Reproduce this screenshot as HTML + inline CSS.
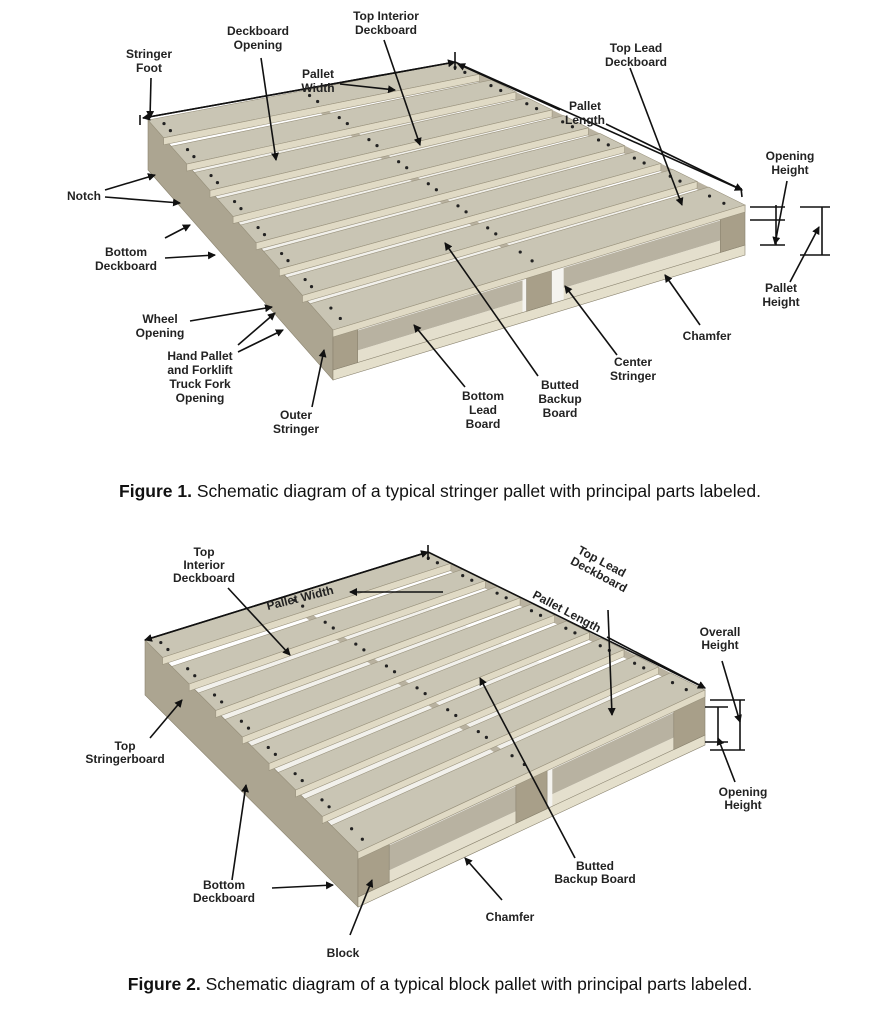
<!DOCTYPE html>
<html><head><meta charset="utf-8"><style>
body{margin:0;background:#fff;width:888px;height:1024px;overflow:hidden}
svg text{font-family:"Liberation Sans",sans-serif;font-weight:bold;font-size:12px;fill:#222}
.cap{font-size:17.5px;font-weight:normal;fill:#111}
</style></head><body>
<svg id="s" width="888" height="1024" viewBox="0 0 888 1024" xmlns="http://www.w3.org/2000/svg">
<defs><marker id="a" markerWidth="8" markerHeight="8" refX="7" refY="4" orient="auto" markerUnits="userSpaceOnUse"><path d="M0,0 L8,4 L0,8 z" fill="#111"/></marker></defs>
<g id="p1"></g><g id="p2"></g>
<g stroke="#111" stroke-width="1.6" fill="none" marker-end="url(#a)">
<line x1="151" y1="78" x2="150" y2="118"/>
<line x1="261" y1="58" x2="276" y2="160"/>
<line x1="384" y1="40" x2="420" y2="145"/>
<line x1="340" y1="84" x2="395" y2="90"/>
<line x1="630" y1="68" x2="682" y2="205"/>
<line x1="560" y1="110" x2="458" y2="64"/>
<line x1="606" y1="124" x2="742" y2="190"/>
<line x1="105" y1="190" x2="155" y2="175"/>
<line x1="105" y1="197" x2="180" y2="203"/>
<line x1="165" y1="238" x2="190" y2="225"/>
<line x1="165" y1="258" x2="215" y2="255"/>
<line x1="190" y1="321" x2="272" y2="307"/>
<line x1="238" y1="345" x2="275" y2="313"/>
<line x1="238" y1="352" x2="283" y2="330"/>
<line x1="312" y1="407" x2="324" y2="350"/>
<line x1="465" y1="387" x2="414" y2="325"/>
<line x1="538" y1="376" x2="445" y2="243"/>
<line x1="617" y1="355" x2="565" y2="286"/>
<line x1="700" y1="325" x2="665" y2="275"/>
<line x1="787" y1="181" x2="775" y2="244"/>
<line x1="790" y1="282" x2="819" y2="227"/>
<line x1="228" y1="588" x2="290" y2="655"/>
<line x1="443" y1="592" x2="350" y2="592"/>
<line x1="150" y1="738" x2="182" y2="700"/>
<line x1="232" y1="880" x2="246" y2="785"/>
<line x1="272" y1="888" x2="333" y2="885"/>
<line x1="350" y1="935" x2="372" y2="880"/>
<line x1="502" y1="900" x2="465" y2="858"/>
<line x1="575" y1="858" x2="480" y2="678"/>
<line x1="608" y1="610" x2="612" y2="715"/>
<line x1="607" y1="637" x2="705" y2="688"/>
<line x1="735" y1="782" x2="718" y2="738"/>
<line x1="722" y1="661" x2="740" y2="722"/>
</g>
<g stroke="#111" stroke-width="1.6" fill="none">
<line x1="143" y1="118" x2="455" y2="62" marker-end="url(#a)"/>
<line x1="455" y1="62" x2="143" y2="118" marker-end="url(#a)"/>
<line x1="455" y1="62" x2="742" y2="190" marker-end="url(#a)"/>
<line x1="741" y1="188" x2="742" y2="197"/>
<line x1="140" y1="115" x2="140" y2="125"/><line x1="455" y1="52" x2="455" y2="70"/>
<line x1="750" y1="207" x2="785" y2="207"/><line x1="750" y1="220" x2="785" y2="220"/>
<line x1="776" y1="205" x2="776" y2="245"/><line x1="760" y1="245" x2="785" y2="245"/>
<line x1="800" y1="207" x2="830" y2="207"/><line x1="800" y1="255" x2="830" y2="255"/>
<line x1="822" y1="207" x2="822" y2="255"/>
<line x1="145" y1="640" x2="428" y2="552" marker-end="url(#a)"/>
<line x1="428" y1="552" x2="145" y2="640" marker-end="url(#a)"/>
<line x1="428" y1="552" x2="705" y2="688" marker-end="url(#a)"/>
<line x1="428" y1="545" x2="428" y2="560"/>
<line x1="710" y1="700" x2="745" y2="700"/><line x1="710" y1="750" x2="745" y2="750"/>
<line x1="740" y1="700" x2="740" y2="750"/>
<line x1="705" y1="707" x2="728" y2="707"/><line x1="705" y1="742" x2="728" y2="742"/>
<line x1="718" y1="707" x2="718" y2="742"/>
</g>
<g text-anchor="middle">
<text x="149" y="58">Stringer</text><text x="149" y="72">Foot</text>
<text x="258" y="35">Deckboard</text><text x="258" y="49">Opening</text>
<text x="386" y="20">Top Interior</text><text x="386" y="34">Deckboard</text>
<text x="318" y="78">Pallet</text><text x="318" y="92">Width</text>
<text x="636" y="52">Top Lead</text><text x="636" y="66">Deckboard</text>
<text x="585" y="110">Pallet</text><text x="585" y="124">Length</text>
<text x="790" y="160">Opening</text><text x="790" y="174">Height</text>
<text x="84" y="200">Notch</text>
<text x="126" y="256">Bottom</text><text x="126" y="270">Deckboard</text>
<text x="781" y="292">Pallet</text><text x="781" y="306">Height</text>
<text x="160" y="323">Wheel</text><text x="160" y="337">Opening</text>
<text x="707" y="340">Chamfer</text>
<text x="200" y="360">Hand Pallet</text><text x="200" y="374">and Forklift</text><text x="200" y="388">Truck Fork</text><text x="200" y="402">Opening</text>
<text x="633" y="366">Center</text><text x="633" y="380">Stringer</text>
<text x="483" y="400">Bottom</text><text x="483" y="414">Lead</text><text x="483" y="428">Board</text>
<text x="560" y="389">Butted</text><text x="560" y="403">Backup</text><text x="560" y="417">Board</text>
<text x="296" y="419">Outer</text><text x="296" y="433">Stringer</text>
<text class="cap" x="440" y="497"><tspan font-weight="bold">Figure 1.</tspan> Schematic diagram of a typical stringer pallet with principal parts labeled.</text>
<text x="204" y="556" font-size="11">Top</text><text x="204" y="569" font-size="11">Interior</text><text x="204" y="582" font-size="11">Deckboard</text>
<text x="300" y="602" font-size="11" transform="rotate(-14 300 598)">Pallet Width</text>
<text x="600" y="565" font-size="11" transform="rotate(28 600 565)">Top Lead</text>
<text x="597" y="578" font-size="11" transform="rotate(28 597 578)">Deckboard</text>
<text x="565" y="615" font-size="11" transform="rotate(28 565 615)">Pallet Length</text>
<text x="720" y="636" font-size="11">Overall</text><text x="720" y="649" font-size="11">Height</text>
<text x="125" y="750" font-size="11">Top</text><text x="125" y="763" font-size="11">Stringerboard</text>
<text x="743" y="796" font-size="11">Opening</text><text x="743" y="809" font-size="11">Height</text>
<text x="595" y="870" font-size="11">Butted</text><text x="595" y="883" font-size="11">Backup Board</text>
<text x="224" y="889" font-size="11">Bottom</text><text x="224" y="902" font-size="11">Deckboard</text>
<text x="510" y="921" font-size="11">Chamfer</text>
<text x="343" y="957" font-size="11">Block</text>
<text class="cap" x="440" y="990"><tspan font-weight="bold">Figure 2.</tspan> Schematic diagram of a typical block pallet with principal parts labeled.</text>
</g>
</svg>
<script>
var NS="http://www.w3.org/2000/svg";
function poly(g,pts,fill,stroke){var p=document.createElementNS(NS,"polygon");p.setAttribute("points",pts.map(function(q){return q[0].toFixed(1)+","+q[1].toFixed(1)}).join(" "));p.setAttribute("fill",fill);if(stroke){p.setAttribute("stroke",stroke);p.setAttribute("stroke-width","0.6")}g.appendChild(p);}
function circ(g,x,y){var c=document.createElementNS(NS,"circle");c.setAttribute("cx",x);c.setAttribute("cy",y);c.setAttribute("r",1.6);c.setAttribute("fill","#222");g.appendChild(c);}
function pallet(id,L0,L1,R0,R1,H,n,bw,block){
 var g=document.getElementById(id);
 function L(t){return[L0[0]+(L1[0]-L0[0])*t,L0[1]+(L1[1]-L0[1])*t]}
 function R(t){return[R0[0]+(R1[0]-R0[0])*t,R0[1]+(R1[1]-R0[1])*t]}
 function d(p,dy){return[p[0],p[1]+dy]}
 function lerp(a,b,s){return[a[0]+(b[0]-a[0])*s,a[1]+(b[1]-a[1])*s]}
 poly(g,[d(L(0),H),d(R(0),H),d(R(1),H),d(L(1),H)],"#f2f1ec");
 [0,0.5,1].forEach(function(s){var a=lerp(L(0),R(0),s),b=lerp(L(1),R(1),s);poly(g,[d(a,8),d(a,0),d(b,0),d(b,8)],"#b9b2a0");});
 poly(g,[L(0),L(1),d(L(1),H),d(L(0),H)],"#aca591","#8a836f");
 poly(g,[L(1),R(1),d(R(1),H),d(L(1),H)],"#f4f3ef");
 [[0.06,0.46],[0.56,0.95]].forEach(function(o){var a=lerp(L(1),R(1),o[0]),b=lerp(L(1),R(1),o[1]);poly(g,[d(a,8),d(b,8),d(b,H-22),d(a,H-22)],"#b8b2a1");poly(g,[d(a,H-22),d(b,H-22),d(b,H-10),d(a,H-10)],"#e4dfcd");});
 poly(g,[d(L(1),H-10),d(R(1),H-10),d(R(1),H),d(L(1),H)],"#e4dfcb","#8a836f");
 [0,0.5,1].forEach(function(s){var a=lerp(L(1),R(1),Math.max(0,s-block)),b=lerp(L(1),R(1),Math.min(1,s+block));if(s==0)b=lerp(L(1),R(1),block*2);if(s==1)a=lerp(L(1),R(1),1-block*2);poly(g,[a,b,d(b,H-10),d(a,H-10)],"#a89f89","#8a836f");});
 var step=1/n;
 for(var i=0;i<n;i++){var t0=i*step,t1=t0+bw*step;if(i==n-1)t1=1;
  poly(g,[L(t0),R(t0),R(t1),L(t1)],"#c9c5b4","#9a937e");
  poly(g,[L(t1),R(t1),d(R(t1),7),d(L(t1),7)],"#e0dac5","#9a937e");
  [0.03,0.5,0.97].forEach(function(s){var p=lerp(lerp(L(t0),R(t0),s),lerp(L(t1),R(t1),s),0.3),q=lerp(lerp(L(t0),R(t0),s),lerp(L(t1),R(t1),s),0.7);circ(g,p[0]+2,p[1]);circ(g,q[0]+2,q[1]);});
 }
}
pallet("p1",[148,120],[333,330],[455,62],[745,205],50,8,0.68,0.03);
pallet("p2",[145,640],[358,852],[428,552],[705,690],55,8,0.66,0.045);
</script>
</body></html>
